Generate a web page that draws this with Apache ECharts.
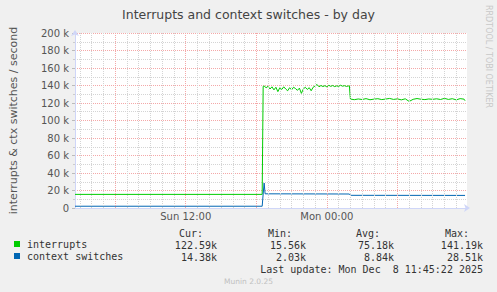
<!DOCTYPE html>
<html><head><meta charset="utf-8">
<script src="https://cdn.jsdelivr.net/npm/echarts@6/dist/echarts.min.js"></script>
<style>html,body{margin:0;padding:0;background:#f0f0f0}#c{width:497px;height:292px}</style>
</head><body><div id="c"></div>
<script>
// time in minutes since Sun 00:00, values in thousands per second
const xMin = 155, xMax = 2155;
const xLabelValues = [720, 1440];
const xLabelTexts = ['Sun 12:00', 'Mon 00:00'];
const yTicks = [0, 20, 40, 60, 80, 100, 120, 140, 160, 180, 200];

const intTimes = [155, 1110, 1115, 1120, 1130, 1140, 1150, 1160, 1170, 1180, 1190, 1200, 1210, 1220, 1230, 1240, 1250, 1260, 1270, 1280, 1290, 1300, 1310, 1320, 1330, 1340, 1350, 1360, 1370, 1380, 1390, 1400, 1410, 1420, 1430, 1440, 1450, 1460, 1470, 1480, 1490, 1500, 1510, 1520, 1530, 1540, 1550, 1555,
  1560, 1580, 1600, 1620, 1640, 1660, 1680, 1700, 1720, 1740, 1760, 1780, 1800, 1820, 1840, 1860, 1880, 1900, 1920, 1940, 1960, 1980, 2000, 2020, 2040, 2060, 2080, 2100, 2120, 2140, 2145];
const intValues = [15.56, 15.56, 139.0, 139.4, 137.5, 139.0, 136.0, 138.5, 135.0, 138.0, 133.0, 137.5, 135.5, 138.5, 136.0, 134.0, 137.5, 135.0, 138.0, 136.5, 134.5, 137.0, 131.0, 136.0, 138.0, 135.5, 137.5, 134.0, 138.0, 139.5, 141.19, 138.5, 140.0, 138.8, 139.8, 138.5, 140.2, 139.0, 140.0, 138.7, 139.6, 139.0, 140.3, 139.2, 139.8, 138.9, 139.5, 139.5,
  124.5, 123.8, 124.6, 124.0, 125.0, 123.7, 124.4, 124.9, 123.9, 124.5, 125.2, 124.1, 124.7, 123.6, 124.8, 121.8, 124.2, 125.1, 124.3, 123.9, 124.6, 124.2, 124.8, 124.0, 125.3, 124.1, 124.9, 123.6, 125.0, 124.4, 122.59];

const ctxTimes = [155, 1110, 1115, 1120, 1125, 1555, 1560, 2145];
const ctxValues = [2.03, 2.03, 16.0, 28.51, 16.2, 16.0, 14.5, 14.38];

const seriesNames = ['interrupts', 'context switches'];
const seriesColors = ['#00cc00', '#0066b3'];
const statHeaders = ['Cur:', 'Min:', 'Avg:', 'Max:'];
const statInterrupts = ['122.59k', '15.56k', '75.18k', '141.19k'];
const statContext = ['14.38k', '2.03k', '8.84k', '28.51k'];
const lastUpdate = 'Last update: Mon Dec \u00a08 11:45:22 2025';

function pairs(t, v) { return t.map((x, i) => [x, v[i]]); }

const majorV = [360, 720, 1080, 1440, 1800];
const minorV = [];
for (let m = 180; m <= 2100; m += 60) if (m % 360 !== 0) minorV.push(m);

const mono = "'DejaVu Sans Mono', monospace";
const sans = "'DejaVu Sans', sans-serif";
const colRight = [217, 306, 394, 483];
const graphic = [];
statHeaders.forEach((h, i) => graphic.push({type: 'text', right: 497 - (colRight[i] - 14), top: 228, style: {text: h, font: '10px ' + mono, fill: '#333'}}));
statInterrupts.forEach((h, i) => graphic.push({type: 'text', right: 497 - colRight[i], top: 240, style: {text: h, font: '10px ' + mono, fill: '#333'}}));
statContext.forEach((h, i) => graphic.push({type: 'text', right: 497 - colRight[i], top: 252, style: {text: h, font: '10px ' + mono, fill: '#333'}}));
graphic.push({type: 'text', right: 14, top: 264, style: {text: lastUpdate, font: '10px ' + mono, fill: '#333'}});
graphic.push({type: 'text', left: 'center', top: 277, style: {text: 'Munin 2.0.25', font: '7.5px ' + sans, fill: '#c0c0c0'}});
graphic.push({type: 'text', x: 492, y: 5, rotation: -Math.PI / 2, style: {text: 'RRDTOOL / TOBI OETIKER', font: '8px ' + sans, fill: '#c8c8c8', textVerticalAlign: 'top'}});

const chart = echarts.init(document.getElementById('c'), null, {renderer: 'svg'});
chart.setOption({
  backgroundColor: '#f0f0f0',
  animation: false,
  title: {text: 'Interrupts and context switches - by day', left: 'center', top: 3,
    textStyle: {fontFamily: sans, fontSize: 12.5, fontWeight: 'normal', color: '#444'}},
  grid: {left: 67, right: 30, top: 33, bottom: 84, show: true, backgroundColor: '#ffffff', borderWidth: 0},
  legend: {data: seriesNames, orient: 'vertical', left: 14, top: 239, padding: 0, itemWidth: 6, itemHeight: 6, itemGap: 2,
    icon: 'rect', selectedMode: false,
    textStyle: {fontFamily: mono, fontSize: 10, color: '#333', padding: [0, 0, 0, 2]}},
  xAxis: {type: 'value', min: xMin, max: xMax,
    axisLine: {show: true, lineStyle: {color: '#cfd6f8'}, symbol: ['none', 'arrow'], symbolSize: [6, 6], symbolOffset: [0, 3]},
    axisTick: {show: false}, splitLine: {show: false},
    axisLabel: {customValues: xLabelValues, formatter: v => xLabelTexts[xLabelValues.indexOf(v)] || '',
      fontFamily: sans, fontSize: 10, color: '#555', margin: 3}},
  yAxis: {type: 'value', min: 0, max: 200, interval: 20,
    name: 'interrupts & ctx switches / second', nameLocation: 'middle', nameGap: 56,
    nameTextStyle: {fontFamily: sans, fontSize: 11, color: '#555'},
    axisLine: {show: true, lineStyle: {color: '#cfd6f8'}, symbol: ['none', 'arrow'], symbolSize: [6, 6], symbolOffset: [0, 3]},
    axisTick: {show: true, length: 3, lineStyle: {color: '#bbbbbb'}},
    minorTick: {show: true, splitNumber: 2, length: 2, lineStyle: {color: '#cccccc'}},
    axisLabel: {formatter: v => v === 0 ? '0' : v + ' k', fontFamily: sans, fontSize: 10, color: '#555', margin: 6},
    splitLine: {show: true, lineStyle: {color: '#f4a8a8', type: [1, 1], width: 1}},
    minorSplitLine: {show: true, lineStyle: {color: '#d4d4d4', type: [1, 1], width: 1}}},
  graphic: graphic,
  series: [
    {type: 'line', name: 'grid', data: [], z: 1, silent: true,
      markLine: {silent: true, symbol: 'none', label: {show: false}, animation: false,
        data: minorV.map(v => ({xAxis: v, lineStyle: {color: '#d4d4d4', type: [1, 1], width: 1}}))
          .concat(majorV.map(v => ({xAxis: v, lineStyle: {color: '#f4a8a8', type: [1, 1], width: 1}})))}},
    {type: 'line', name: seriesNames[0], data: pairs(intTimes, intValues), showSymbol: false, z: 3,
      lineStyle: {width: 1, color: seriesColors[0]}, itemStyle: {color: seriesColors[0]}},
    {type: 'line', name: seriesNames[1], data: pairs(ctxTimes, ctxValues), showSymbol: false, z: 3,
      lineStyle: {width: 1, color: seriesColors[1]}, itemStyle: {color: seriesColors[1]}}
  ]
});
</script></body></html>
